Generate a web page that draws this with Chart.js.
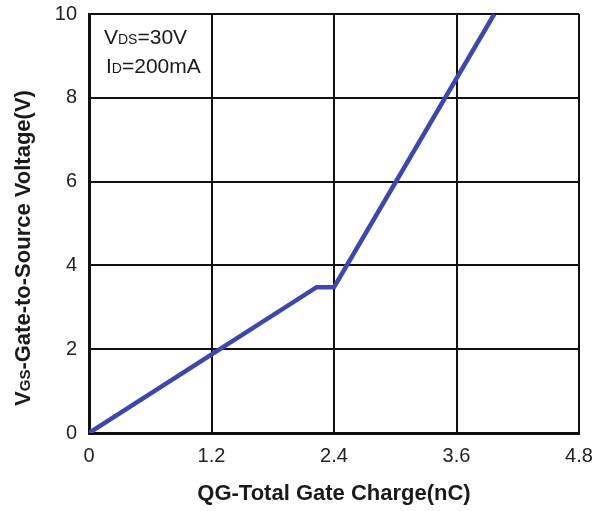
<!DOCTYPE html>
<html>
<head>
<meta charset="utf-8">
<script src="https://cdn.jsdelivr.net/npm/chart.js@4.4.1/dist/chart.umd.min.js"></script>
<style>
  html, body { margin: 0; padding: 0; background: #fff; }
  #wrap { width: 592px; height: 511px; }
</style>
</head>
<body>
<div id="wrap"><canvas id="gateChart" width="592" height="511"></canvas></div>
<script>
// gate charge curve
var qg = [0, 2.23, 2.4, 3.97];
var vgs = [0, 3.48, 3.48, 10];
var xTicks = [0, 1.2, 2.4, 3.6, 4.8];
var yTicks = [0, 2, 4, 6, 8, 10];

var FONT = '"Liberation Sans", Arial, sans-serif';

// draw text with a subscript part: parts = [[text, isSub], ...]
function drawSubText(ctx, parts, x, y, size, weight) {
  var cx = x;
  parts.forEach(function(p) {
    var s = p[1] ? Math.round(size * 0.66) : size;
    ctx.font = weight + ' ' + s + 'px ' + FONT;
    ctx.fillText(p[0], cx, y);
    cx += ctx.measureText(p[0]).width;
  });
  return cx - x;
}
function measureSubText(ctx, parts, size, weight) {
  var w = 0;
  parts.forEach(function(p) {
    var s = p[1] ? Math.round(size * 0.66) : size;
    ctx.font = weight + ' ' + s + 'px ' + FONT;
    w += ctx.measureText(p[0]).width;
  });
  return w;
}

var labelsPlugin = {
  id: 'labels',
  afterDraw: function(chart) {
    var ctx = chart.ctx;
    ctx.save();
    ctx.fillStyle = '#1a1a1a';
    ctx.textBaseline = 'alphabetic';
    ctx.textAlign = 'left';
    // test conditions inside the plot
    drawSubText(ctx, [['V', false], ['DS', true], ['=30V', false]], 104, 44, 21, 'normal');
    drawSubText(ctx, [['I', false], ['D', true], ['=200mA', false]], 106, 73, 21, 'normal');

    // y axis title, rotated
    var yParts = [['V', false], ['GS', true], ['-Gate-to-Source Voltage(V)', false]];
    var w = measureSubText(ctx, yParts, 22, 'bold');
    ctx.translate(30, 248);
    ctx.rotate(-Math.PI / 2);
    drawSubText(ctx, yParts, -w / 2, 0, 22, 'bold');
    ctx.restore();
  }
};

var ctx = document.getElementById('gateChart').getContext('2d');
new Chart(ctx, {
  type: 'scatter',
  data: {
    datasets: [{
      data: qg.map(function(q, i) { return { x: q, y: vgs[i] }; }),
      showLine: true,
      borderColor: '#3d48a8',
      borderWidth: 4.5,
      pointRadius: 0,
      tension: 0
    }]
  },
  options: {
    responsive: false,
    animation: false,
    layout: { padding: { top: 14, right: 13, left: 0, bottom: 0 } },
    plugins: {
      legend: { display: false },
      tooltip: { enabled: false }
    },
    scales: {
      x: {
        type: 'linear',
        min: 0,
        max: 4.8,
        afterBuildTicks: function(scale) {
          scale.ticks = xTicks.map(function(v) { return { value: v }; });
        },
        afterFit: function(scale) {
          scale.height = 78;
          scale.paddingLeft = 0;
          scale.paddingRight = 0;
        },
        grid: { color: '#111', lineWidth: 2, drawTicks: false },
        border: { color: '#111', width: 3 },
        ticks: {
          padding: 11,
          color: '#222',
          font: { family: FONT, size: 20 },
          callback: function(v) { return v === 0 ? '0' : v.toFixed(1); }
        },
        title: {
          display: true,
          text: 'QG-Total Gate Charge(nC)',
          color: '#1a1a1a',
          font: { family: FONT, size: 22, weight: 'bold' },
          padding: { top: 10 }
        }
      },
      y: {
        type: 'linear',
        min: 0,
        max: 10,
        afterBuildTicks: function(scale) {
          scale.ticks = yTicks.map(function(v) { return { value: v }; });
        },
        afterFit: function(scale) {
          scale.width = 89;
          scale.paddingTop = 0;
          scale.paddingBottom = 0;
        },
        grid: { color: '#111', lineWidth: 2, drawTicks: false },
        border: { color: '#111', width: 3 },
        ticks: {
          padding: 12,
          color: '#222',
          font: { family: FONT, size: 20 }
        }
      }
    }
  },
  plugins: [labelsPlugin]
});
</script>
</body>
</html>
